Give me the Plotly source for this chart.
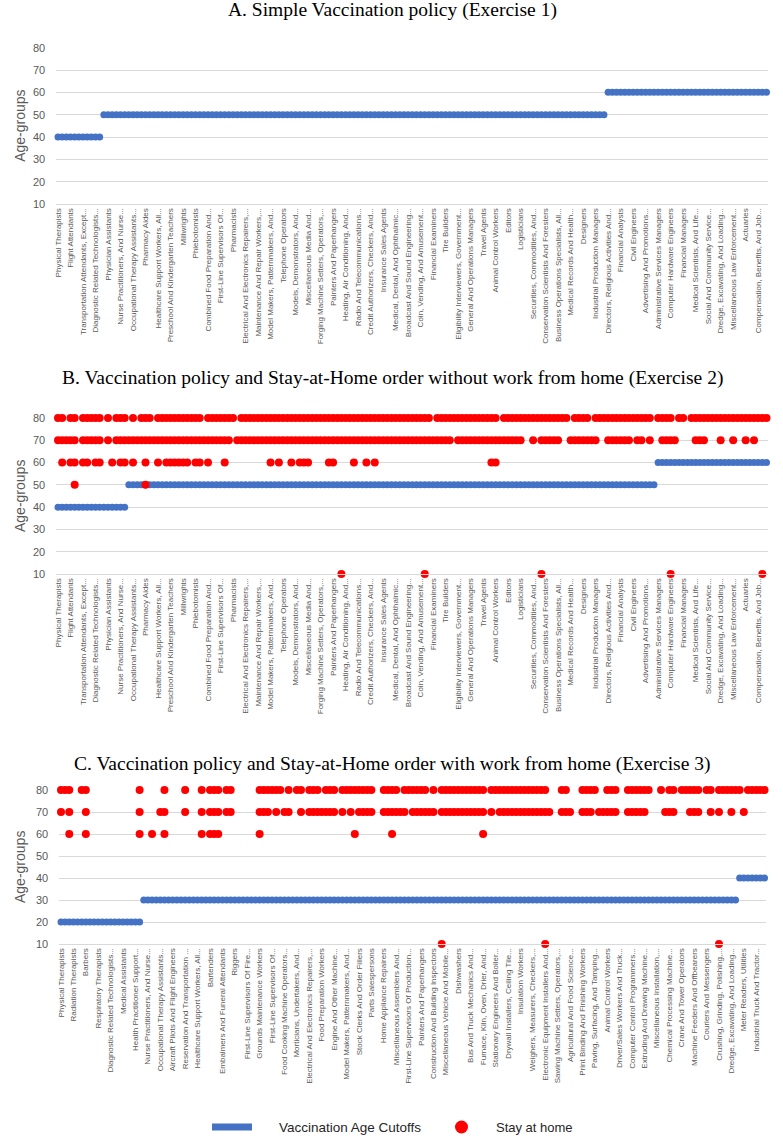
import plotly.graph_objects as go

# ---------------- data ----------------
N_CATEGORIES = 171          # occupations per panel (every 3rd one is labelled)
LABEL_STEP = 3

labels_ab = [
    "Physical Therapists", "Flight Attendants", "Transportation Attendants, Except...",
    "Diagnostic Related Technologists...", "Physician Assistants", "Nurse Practitioners, And Nurse...",
    "Occupational Therapy Assistants...", "Pharmacy Aides", "Healthcare Support Workers, All...",
    "Preschool And Kindergarten Teachers", "Millwrights", "Phlebotomists",
    "Combined Food Preparation And...", "First-Line Supervisors Of...", "Pharmacists",
    "Electrical And Electronics Repairers,...", "Maintenance And Repair Workers,...",
    "Model Makers, Patternmakers, And...", "Telephone Operators", "Models, Demonstrators, And...",
    "Miscellaneous Media And...", "Forging Machine Setters, Operators,...", "Painters And Paperhangers",
    "Heating, Air Conditioning, And...", "Radio And Telecommunications...",
    "Credit Authorizers, Checkers, And...", "Insurance Sales Agents", "Medical, Dental, And Ophthalmic...",
    "Broadcast And Sound Engineering...", "Coin, Vending, And Amusement...", "Financial Examiners",
    "Tire Builders", "Eligibility Interviewers, Government...", "General And Operations Managers",
    "Travel Agents", "Animal Control Workers", "Editors", "Logisticians",
    "Securities, Commodities, And...", "Conservation Scientists And Foresters",
    "Business Operations Specialists, All...", "Medical Records And Health...", "Designers",
    "Industrial Production Managers", "Directors, Religious Activities And...", "Financial Analysts",
    "Civil Engineers", "Advertising And Promotions...", "Administrative Services Managers",
    "Computer Hardware Engineers", "Financial Managers", "Medical Scientists, And Life...",
    "Social And Community Service...", "Dredge, Excavating, And Loading...",
    "Miscellaneous Law Enforcement...", "Actuaries", "Compensation, Benefits, And Job...",
]

labels_c = [
    "Physical Therapists", "Radiation Therapists", "Barbers", "Respiratory Therapists",
    "Diagnostic Related Technologists...", "Medical Assistants", "Health Practitioner Support...",
    "Nurse Practitioners, And Nurse...", "Occupational Therapy Assistants...",
    "Aircraft Pilots And Flight Engineers", "Reservation And Transportation ...",
    "Healthcare Support Workers, All...", "Bartenders", "Embalmers And Funeral Attendants", "Riggers",
    "First-Line Supervisors Of Fire...", "Grounds Maintenance Workers", "First-Line Supervisors Of...",
    "Food Cooking Machine Operators...", "Morticians, Undertakers, And...",
    "Electrical And Electronics Repairers,...", "Food Preparation Workers", "Engine And Other Machine...",
    "Model Makers, Patternmakers, And...", "Stock Clerks And Order Fillers", "Parts Salespersons",
    "Home Appliance Repairers", "Miscellaneous Assemblers And...", "First-Line Supervisors Of Production...",
    "Painters And Paperhangers", "Construction And Building Inspectors", "Miscellaneous Vehicle And Mobile...",
    "Dishwashers", "Bus And Truck Mechanics And...", "Furnace, Kiln, Oven, Drier, And...",
    "Stationary Engineers And Boiler...", "Drywall Installers, Ceiling Tile...", "Insulation Workers",
    "Weighers, Measurers, Checkers,...", "Electronic Equipment Installers And...",
    "Sawing Machine Setters, Operators,...", "Agricultural And Food Science...",
    "Print Binding And Finishing Workers", "Paving, Surfacing, And Tamping...", "Animal Control Workers",
    "Driver/Sales Workers And Truck...", "Computer Control Programmers...", "Extruding And Drawing Machine...",
    "Miscellaneous Installation,...", "Chemical Processing Machine...", "Crane And Tower Operators",
    "Machine Feeders And Offbearers", "Couriers And Messengers", "Crushing, Grinding, Polishing,...",
    "Dredge, Excavating, And Loading...", "Meter Readers, Utilities", "Industrial Truck And Tractor...",
]

# Vaccination age cutoff: age value and first occupation index of each step
a_cut_ages = [40, 50, 60]
a_cut_starts = [0, 11, 132]
b_cut_ages = [40, 50, 60]
b_cut_starts = [0, 17, 144]
c_cut_ages = [20, 30, 40]
c_cut_starts = [0, 20, 164]

# Stay-at-home age groups: occupation indices (ranges) per age group
b_stay_80 = "0-1,3-4,6-10,12,14-16,18,20-22,24-34,36-42,44-89,91-105,107-122,124-127,129-142,144-147,149-150,152-170"
b_stay_70 = "0-4,6-10,12,14-19,20-23,24-41,43-94,96-110,111,114,116-119,120,123-128,129,132-137,139-140,142,145-148,153-155,159,162,165,167"
b_stay_60 = "1,3,4,6,7,9,10,13,15,16,18,21,24,26-31,33,34,36,40,51,53,56,58-60,65,66,71,74,76,104,105"
b_stay_50 = "4,21"
b_stay_10 = "68,88,116,147,169"

c_stay_80 = "0-2,5-6,19,25,30,34,36-38,40-41,48-53,55,57-58,60-62,64-66,68-75,78-81,83-88,90,92-102,104-117,121-122,126-129,132-134,137-142,145,147-148,150-154,156-157,159-164,166-170"
c_stay_70 = "0,2,6,19,24,25,30,34,36-38,40-41,48-50,52,54-55,58,60-66,68,70,72-75,78-83,85-90,92-102,104,106-118,121-123,126-128,130-134,137-141,146-148,152-154,157,159,162,165"
c_stay_60 = "2,6,19,22,25,34,36,37,38,48,71,80,102"
c_stay_10 = "92,117,159"

legend_names = ["Vaccination Age Cutoffs", "Stay at home"]


def expand(spec):
    out = []
    for part in spec.split(","):
        if "-" in part:
            a, b = part.split("-")
            out.extend(range(int(a), int(b) + 1))
        else:
            out.append(int(part))
    return sorted(set(out))


def steps(ages, starts, n):
    xs, ys = [], []
    bounds = starts + [n]
    for k, age in enumerate(ages):
        for i in range(bounds[k], bounds[k + 1]):
            xs.append(i)
            ys.append(age)
    return xs, ys


# ---------------- figure ----------------
W, H = 783, 1142
BLUE = "#4472C4"
RED = "#FF0000"
GRID = "#D9D9D9"
TICK = "#595959"
SANS = "Liberation Sans, Arial, sans-serif"
SERIF = "Liberation Serif, Times New Roman, serif"
PAD = 0.4  # category padding at both ends of the x range

panels = [
    dict(top=47.7, bottom=204, first=58, last=766.5,
         title="A. Simple Vaccination policy (Exercise 1)", title_y=10,
         labels=labels_ab, cut=(a_cut_ages, a_cut_starts), stay=[]),
    dict(top=418, bottom=574, first=58, last=766.5,
         title="B. Vaccination policy and Stay-at-Home order without work from home (Exercise 2)",
         title_y=378, labels=labels_ab, cut=(b_cut_ages, b_cut_starts),
         stay=[(80, b_stay_80), (70, b_stay_70), (60, b_stay_60), (50, b_stay_50), (10, b_stay_10)]),
    dict(top=790, bottom=944, first=61, last=764.5,
         title="C. Vaccination policy and Stay-at-Home order with work from home (Exercise 3)",
         title_y=764, labels=labels_c, cut=(c_cut_ages, c_cut_starts),
         stay=[(80, c_stay_80), (70, c_stay_70), (60, c_stay_60), (10, c_stay_10)]),
]

fig = go.Figure()
layout = dict(
    width=W, height=H, margin=dict(l=0, r=0, t=0, b=0),
    paper_bgcolor="white", plot_bgcolor="white", showlegend=False,
    annotations=[], shapes=[],
)

for k, p in enumerate(panels):
    suffix = "" if k == 0 else str(k + 1)
    xa, ya = "x" + suffix, "y" + suffix
    ages, starts = p["cut"]
    bx, by = steps(ages, starts, N_CATEGORIES)
    fig.add_trace(go.Scatter(
        x=bx, y=by, mode="markers", xaxis=xa, yaxis=ya, name=legend_names[0],
        marker=dict(color=BLUE, size=7, line=dict(width=0)),
        cliponaxis=False, hoverinfo="skip"))
    sx, sy = [], []
    for age, spec in p["stay"]:
        for i in expand(spec):
            sx.append(i)
            sy.append(age)
    if sx:
        fig.add_trace(go.Scatter(
            x=sx, y=sy, mode="markers", xaxis=xa, yaxis=ya, name=legend_names[1],
            marker=dict(color=RED, size=8, line=dict(width=0)),
            cliponaxis=False, hoverinfo="skip"))

    step = (p["last"] - p["first"]) / (N_CATEGORIES - 1)
    x0_px = p["first"] - PAD * step
    x1_px = p["last"] + PAD * step
    ydom = [1 - p["bottom"] / H, 1 - p["top"] / H]
    tickvals = list(range(0, N_CATEGORIES, LABEL_STEP))[:len(p["labels"])]
    layout["xaxis" + suffix] = dict(
        domain=[x0_px / W, x1_px / W], anchor=ya, range=[-PAD, N_CATEGORIES - 1 + PAD],
        tickmode="array", tickvals=tickvals, ticktext=p["labels"], tickangle=-90,
        tickfont=dict(family=SANS, size=8, color=TICK),
        showgrid=False, zeroline=False, showline=True, linecolor=GRID, linewidth=1,
        ticks="", automargin=False, fixedrange=True)
    layout["yaxis" + suffix] = dict(
        domain=ydom, anchor=xa, range=[10, 80], dtick=10, tick0=10,
        tickfont=dict(family=SANS, size=11, color=TICK),
        showgrid=True, gridcolor=GRID, gridwidth=1, zeroline=False, showline=False,
        ticks="outside", ticklen=8, tickcolor="rgba(0,0,0,0)", automargin=False, fixedrange=True)
    layout["annotations"].append(dict(
        text=p["title"], xref="paper", yref="paper", x=392 / W, y=1 - p["title_y"] / H,
        xanchor="center", yanchor="middle", showarrow=False,
        font=dict(family=SERIF, size=19.5, color="#000000")))
    layout["annotations"].append(dict(
        text="Age-groups", xref="paper", yref="paper", x=20 / W,
        y=1 - (p["top"] + p["bottom"]) / 2 / H, xanchor="center", yanchor="middle",
        textangle=-90, showarrow=False,
        font=dict(family=SANS, size=14, color=TICK)))

# legend (drawn as key swatches + text at the bottom)
LEG_Y = 1127
layout["shapes"].append(dict(type="rect", xref="paper", yref="paper",
                             x0=212 / W, x1=252 / W, y0=1 - (LEG_Y + 3.5) / H, y1=1 - (LEG_Y - 3.5) / H,
                             fillcolor=BLUE, line=dict(width=0)))
layout["shapes"].append(dict(type="circle", xref="paper", yref="paper",
                             x0=455 / W, x1=468 / W, y0=1 - (LEG_Y + 6.5) / H, y1=1 - (LEG_Y - 6.5) / H,
                             fillcolor=RED, line=dict(width=0)))
layout["annotations"].append(dict(text=legend_names[0], xref="paper", yref="paper", x=277 / W,
                                  y=1 - LEG_Y / H, xanchor="left", yanchor="middle", showarrow=False,
                                  font=dict(family=SANS, size=13.5, color="#262626")))
layout["annotations"].append(dict(text=legend_names[1], xref="paper", yref="paper", x=494 / W,
                                  y=1 - LEG_Y / H, xanchor="left", yanchor="middle", showarrow=False,
                                  font=dict(family=SANS, size=13, color="#262626")))

fig.update_layout(**layout)
fig.write_html("out.html",
               config={"displayModeBar": False},
               post_script="document.body.style.margin='0px';document.body.style.padding='0px';"
                           "document.body.style.overflow='hidden';")
